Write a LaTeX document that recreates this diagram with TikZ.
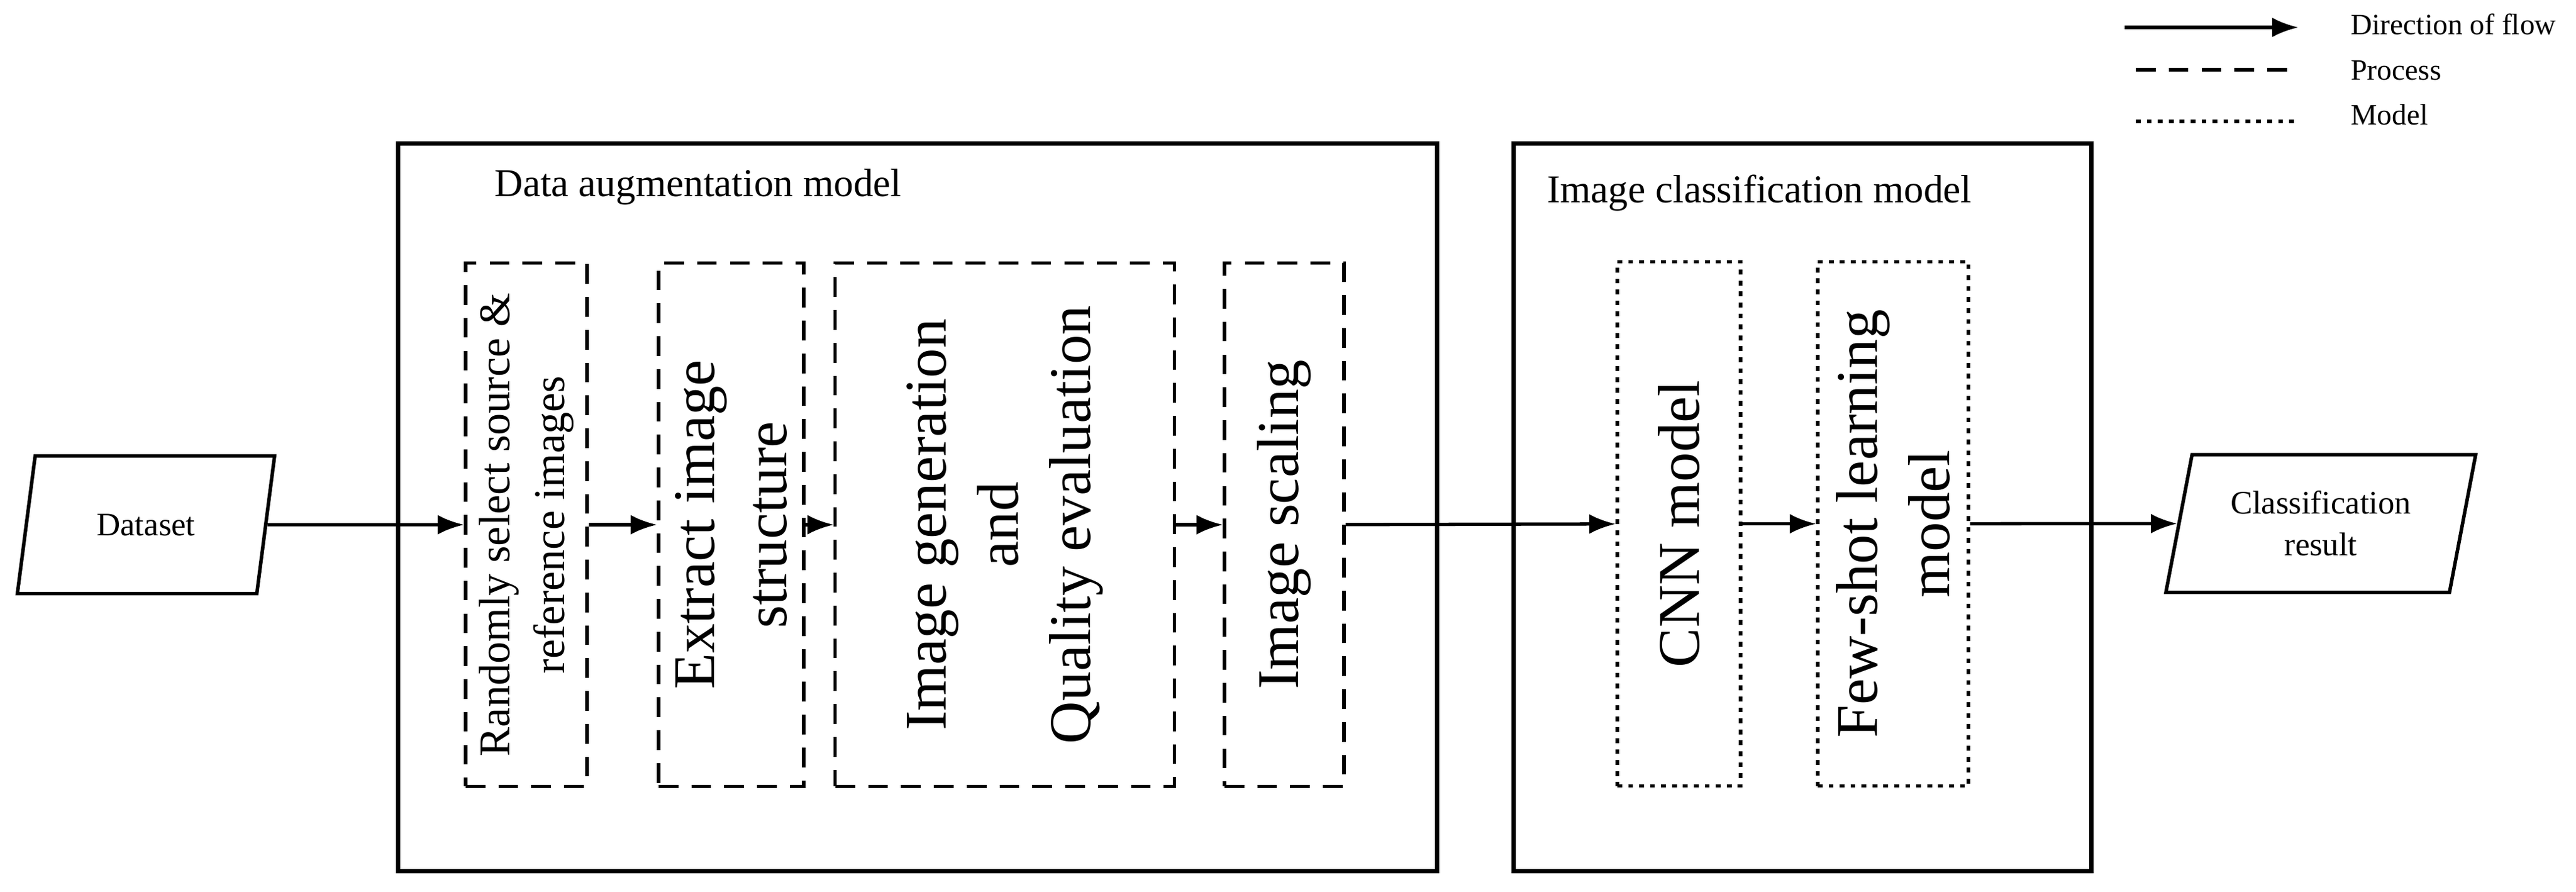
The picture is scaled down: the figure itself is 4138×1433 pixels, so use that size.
\documentclass[tikz,border=0pt]{standalone}
\usepackage{fontspec}
\setmainfont{Liberation Serif}
\usetikzlibrary{shapes.geometric, arrows.meta}

\begin{document}
\begin{tikzpicture}[x=0.01cm, y=-0.01cm]
	\tikzset{
		frame/.style = {rectangle, draw, line width=2pt, inner sep=0pt},
		process/.style = {rectangle, draw, dashed, dash pattern=on 9pt off 6pt, line width=1.5pt, inner sep=0pt, minimum height=8.4cm},
		model/.style = {rectangle, draw, dotted, dash pattern=on 2.2pt off 2.8pt, line width=1.5pt, inner sep=0pt, minimum height=8.42cm},
		io/.style = {trapezium, draw, line width=1.6pt, trapezium left angle=76, trapezium right angle=104, trapezium stretches=true, minimum height=2.21cm, align=center, font=\fontsize{15}{19}\selectfont},
		flow/.style = {draw, line width=1.5pt, -{Latex[length=12pt,width=9pt]}},
		vtext/.style = {rotate=90, align=center, font=\fontsize{27}{33}\selectfont}
	}
	\useasboundingbox (0,0) rectangle (4138,1433);
	% outer frames
	\node [frame, minimum width=16.68cm, minimum height=11.68cm] at (1474,815) (augbox) {};
	\node [frame, minimum width=9.27cm, minimum height=11.68cm] at (2895.5,815) (clsbox) {};
	\node [anchor=base west, font=\fontsize{18}{22}\selectfont] at (782,315) (augtitle) {Data augmentation model};
	\node [anchor=base west, font=\fontsize{18}{22}\selectfont] at (2473,325) (clstitle) {Image classification model};
	% input and output
	\node [io, minimum width=4.15cm] at (234.5,843) (data) {Dataset};
	\node [io, minimum width=4.98cm] at (3728,841) (result) {Classification\\result};
	% processes
	\node [process, minimum width=1.95cm, label={[vtext, font=\fontsize{20}{25}\selectfont]center:Randomly select source \&\\reference images}] at (845.5,843) (select) {};
	\node [process, minimum width=2.33cm, label={[vtext]center:Extract image\\structure}] at (1174.5,843) (extract) {};
	\node [process, minimum width=5.44cm, label={[vtext]center:Image generation\\and\\Quality evaluation}] at (1614,843) (generate) {};
	\node [process, minimum width=1.92cm, label={[vtext]center:Image scaling}] at (2063,843) (scaling) {};
	% models
	\node [model, minimum width=1.98cm, label={[vtext]center:CNN model}] at (2697,841.5) (cnn) {};
	\node [model, minimum width=2.42cm, label={[vtext]center:Few-shot learning\\model}] at (3041,841.5) (fewshot) {};
	% connectors
	\path [flow] (data) -- (select);
	\path [flow] (select) -- (extract);
	\path [flow] (extract) -- (generate);
	\path [flow] (generate) -- (scaling);
	\path [flow] (scaling) -- (cnn);
	\path [flow] (cnn) -- (fewshot);
	\path [flow] (fewshot) -- (result);
	% legend
	\coordinate (flowa) at (3413,44);
	\coordinate (flowb) at (3692,44);
	\coordinate (proca) at (3431,112);
	\coordinate (procb) at (3682,112);
	\coordinate (moda) at (3431,195);
	\coordinate (modb) at (3690,195);
	\path [flow] (flowa) -- (flowb);
	\draw [line width=1.5pt, dash pattern=on 9pt off 6pt] (proca) -- (procb);
	\draw [line width=1.5pt, dash pattern=on 2.2pt off 2.8pt] (moda) -- (modb);
	\node [anchor=base west, font=\fontsize{13.5}{16}\selectfont] at (3764,55) (flowtext) {Direction of flow};
	\node [anchor=base west, font=\fontsize{13.5}{16}\selectfont] at (3764,128) (proctext) {Process};
	\node [anchor=base west, font=\fontsize{13.5}{16}\selectfont] at (3764,200) (modtext) {Model};
\end{tikzpicture}
\end{document}
